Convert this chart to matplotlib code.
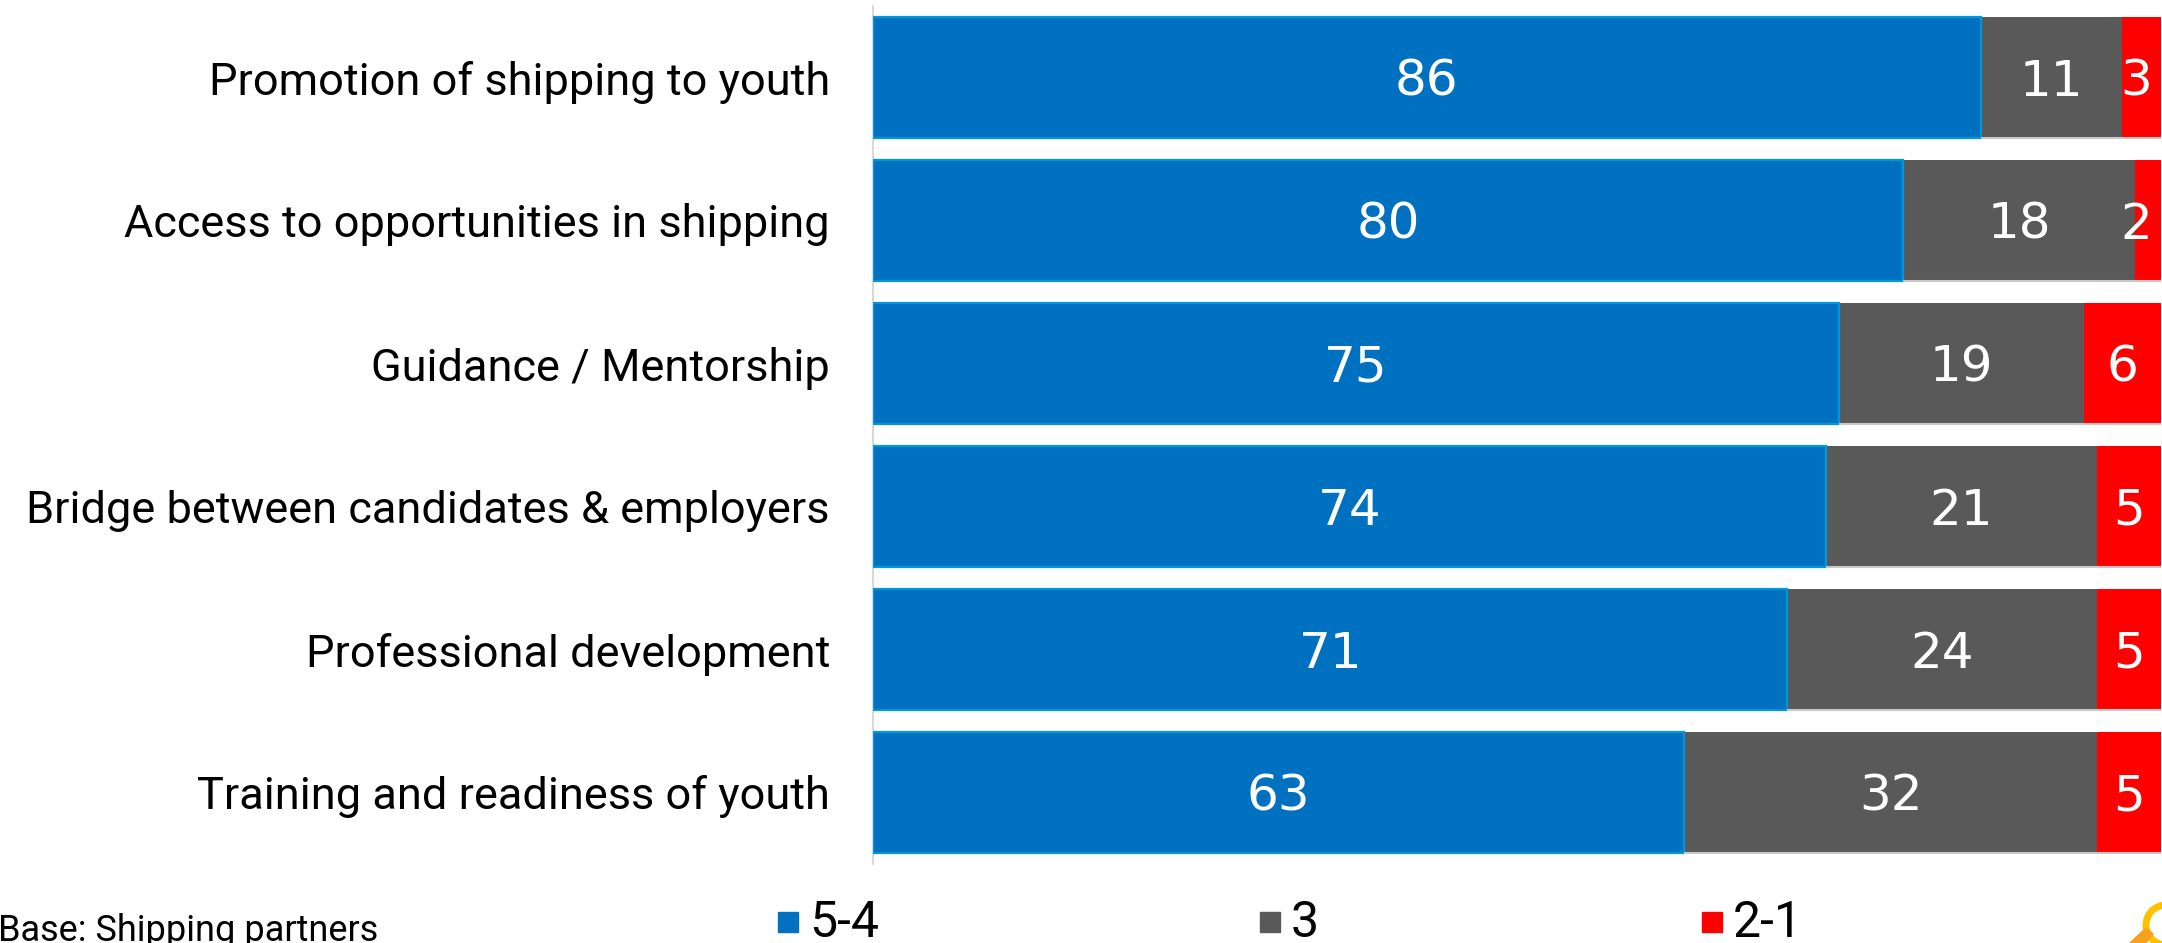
import matplotlib
matplotlib.use("Agg")
import matplotlib.pyplot as plt
from matplotlib.patches import Rectangle, Circle, Polygon

W, H = 2162, 943

categories = [
    "Promotion of shipping to youth",
    "Access to opportunities in shipping",
    "Guidance / Mentorship",
    "Bridge between candidates & employers",
    "Professional development",
    "Training and readiness of youth",
]
top_box = [86, 80, 75, 74, 71, 63]
neutral = [11, 18, 19, 21, 24, 32]
bottom_box = [3, 2, 6, 5, 5, 5]
series_names = ["5-4", "3", "2-1"]

BLUE, GREY, RED = "#0070C0", "#595959", "#FF0000"
LABEL_FONT = ["Roboto", "DejaVu Sans"]
VALUE_FONT = ["DejaVu Sans"]

fig = plt.figure(figsize=(W / 100, H / 100), dpi=100, facecolor="white")
ax = fig.add_axes([873 / W, 1 - 864 / H, (2161 - 873) / W, (864 - 6) / H])

# Stacked horizontal bars; narrow end labels are held back from the right edge
rows = range(len(categories))
left = [0] * len(categories)
for values, colour in [(top_box, BLUE), (neutral, GREY), (bottom_box, RED)]:
    ax.barh(rows, values, left=left, height=0.84, color=colour, edgecolor="none", zorder=2)
    if colour == BLUE:
        ax.barh(rows, values, left=left, height=0.84, fill=False, edgecolor="#0098D8",
                linewidth=1.6, zorder=3)
    else:
        ax.hlines([r + 0.42 for r in rows], left, [a + b for a, b in zip(left, values)],
                  color="#C8C8C8", linewidth=1.5, zorder=3)
    for i, v in enumerate(values):
        ax.text(min(left[i] + v / 2, 98.1), i + 0.03, str(v), ha="center", va="center",
                color="white", fontsize=36, family=VALUE_FONT, zorder=4)
    left = [a + b for a, b in zip(left, values)]

ax.set_xlim(0, 100)
ax.set_ylim(len(categories) - 0.5, -0.5)
ax.set_yticks(list(rows))
ax.set_yticklabels(categories, fontsize=32.5, family=LABEL_FONT, color="black")
ax.tick_params(axis="y", length=0, pad=31)
ax.set_xticks([])
for name, spine in ax.spines.items():
    spine.set_visible(name == "left")
ax.spines["left"].set_color("#D9D9D9")
ax.spines["left"].set_linewidth(1.5)

# Legend row
for name, colour, x in zip(series_names, [BLUE, GREY, RED], [778, 1260, 1702]):
    fig.add_artist(Rectangle((x / W, 1 - 932 / H), 20 / W, 20 / H, color=colour,
                             transform=fig.transFigure))
    fig.text((x + 31) / W, 1 - 923 / H, name, fontsize=36, family=LABEL_FONT,
             va="center", ha="left", color="black")

fig.text(-0.001, 1 - 931 / H, "Base: Shipping partners", fontsize=26, family=LABEL_FONT,
         va="center", ha="left", color="black")

# Logo corner: magnifier ring and handle, cut off by the page edge
fig.add_artist(Circle((2166, H - 925), 20, fill=False, edgecolor="#FFC000", linewidth=5,
                      transform=None))
fig.add_artist(Polygon([(2130, H - 943), (2146, H - 943), (2153, H - 934), (2146, H - 928)],
                       closed=True, color="#F7A01D", transform=None))

fig.savefig("out.png", dpi=100)
